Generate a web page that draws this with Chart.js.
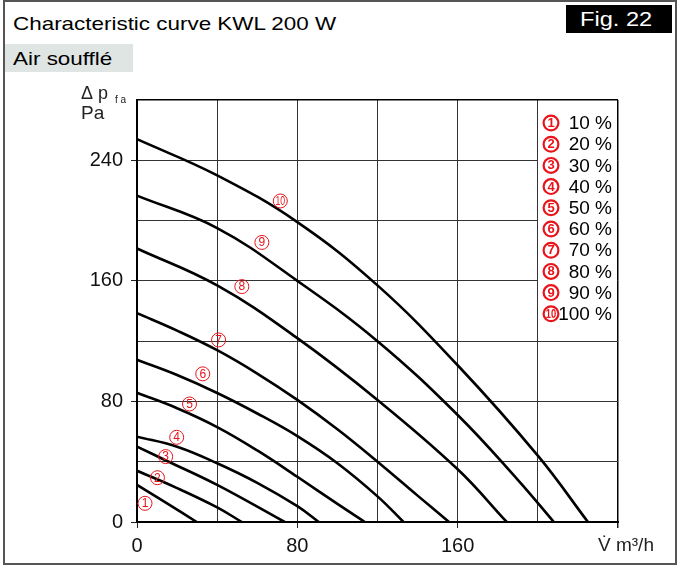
<!DOCTYPE html>
<html>
<head>
<meta charset="utf-8">
<script src="https://cdn.jsdelivr.net/npm/chart.js@4.4.1/dist/chart.umd.min.js"></script>
<style>
html, body { margin: 0; padding: 0; background: #fff; }
body { width: 679px; height: 567px; position: relative; overflow: hidden; font-family: "Liberation Sans", Arial, sans-serif; color: #111; }
#chart { position: absolute; left: 0; top: 0; }
#frame { position: absolute; left: 3px; top: 0; width: 674px; height: 565px; border: 2px solid #555; box-sizing: border-box; }
.stretch { position: absolute; white-space: nowrap; transform: scaleX(1.18); transform-origin: left center; }
#title { left: 13px; top: 13px; font-size: 19px; color: #000; }
#fig { position: absolute; left: 566px; top: 5px; width: 106px; height: 28px; background: #000; }
#fig span { left: 14px; top: 3px; font-size: 20px; color: #fff; }
#sub { position: absolute; left: 5px; top: 44px; width: 128px; height: 28px; background: #dfe5e3; }
#sub span { left: 8px; top: 4px; font-size: 19px; color: #000; }
</style>
</head>
<body>
<div id="frame"></div>
<div id="title" class="stretch">Characteristic curve KWL 200 W</div>
<div id="fig"><span class="stretch">Fig. 22</span></div>
<div id="sub"><span class="stretch">Air soufflé</span></div>
<canvas id="chart" width="679" height="567"></canvas>
<script>
// tick labels shown on the axes
const flowTicks = [0, 80, 160];
const pressureTicks = [0, 80, 160, 240];

// fan speed steps
const speedLabels = ['10 %', '20 %', '30 %', '40 %', '50 %', '60 %', '70 %', '80 %', '90 %', '100 %'];

// curves: [flow m3/h, pressure Pa]
const curve1 = [[0, 24.6], [15, 12.4], [29.8, 0]];
const curve2 = [[0, 34], [20, 22.5], [40, 9.7], [52.3, 0]];
const curve3 = [[0, 50], [15, 40.5], [40, 24.6], [73.7, 0]];
const curve4 = [[0, 56.6], [20, 50], [40, 39], [60, 26], [80, 10.5], [90.7, 0]];
const curve5 = [[0, 85.7], [20, 75.5], [40, 63], [60, 47.5], [80, 30], [100, 12], [113.7, 0]];
const curve6 = [[0, 107.6], [20, 97.5], [40, 85.6], [60, 72], [80, 57], [100, 39], [120, 17], [133, 0]];
const curve7 = [[0, 138.6], [20, 127], [40, 114], [60, 98.5], [80, 81], [100, 61.5], [120, 40], [140, 17.5], [155.7, 0]];
const curve8 = [[0, 181.5], [40, 157], [80, 122], [120, 81], [160, 35], [184.5, 0]];
const curve9 = [[0, 216.5], [40, 195], [80, 160], [120, 120], [160, 71], [190, 28], [208, 0]];
const curve10 = [[0, 254], [40, 230], [80, 199], [120, 157], [160, 104], [200, 44], [225, 0]];

// where the circled numbers sit next to each curve (data units)
const markerPos = [[4, 12.4], [10.2, 29.4], [14.3, 43.4], [19.8, 56.2], [26.2, 78.3],
                   [32.8, 98.3], [40.7, 120.8], [52.3, 156.2], [62.3, 185.5], [71.5, 213]];

const curves = [curve1, curve2, curve3, curve4, curve5, curve6, curve7, curve8, curve9, curve10];
const red = '#e8141a';
const fontFamily = '"Liberation Sans", Arial, sans-serif';

function circled(ctx, cx, cy, n, r, lw, bold) {
    ctx.save();
    ctx.strokeStyle = red;
    ctx.fillStyle = red;
    ctx.lineWidth = lw;
    ctx.beginPath();
    ctx.arc(cx, cy, r, 0, Math.PI * 2);
    ctx.stroke();
    ctx.translate(cx, cy + 0.5);
    if (n >= 10) ctx.scale(0.72, 1);
    ctx.font = (bold ? 'bold 13px ' : '12px ') + fontFamily;
    ctx.textAlign = 'center';
    ctx.textBaseline = 'middle';
    ctx.fillText(String(n), 0, 0);
    ctx.restore();
}

const overlay = {
    id: 'overlay',
    beforeDatasetsDraw(chart) {
        // white box behind the legend hides the grid there
        const { ctx, chartArea: a } = chart;
        ctx.save();
        ctx.fillStyle = '#fff';
        ctx.fillRect(a.right - 80, a.top + 1.5, 79, 229);
        ctx.restore();
    },
    afterDatasetsDraw(chart) {
        const { ctx, chartArea: a, scales: { x, y } } = chart;

        // circled numbers on the curves
        markerPos.forEach((p, i) => {
            circled(ctx, x.getPixelForValue(p[0]), y.getPixelForValue(p[1]), i + 1, 7, 1, false);
        });

        // legend
        ctx.save();
        speedLabels.forEach((lab, i) => {
            const cy = a.top + 23 + i * 21.2;
            circled(ctx, a.right - 67, cy, i + 1, 7.4, 2.2, true);
            ctx.fillStyle = '#000';
            ctx.font = '19px ' + fontFamily;
            ctx.textAlign = 'right';
            ctx.textBaseline = 'middle';
            ctx.fillText(lab, a.right - 6, cy + 1);
        });

        // axis titles
        ctx.fillStyle = '#222';
        ctx.textAlign = 'left';
        ctx.textBaseline = 'alphabetic';
        ctx.font = '18px ' + fontFamily;
        ctx.fillText('\u0394 p', a.left - 56, a.top - 1);
        ctx.font = '10px ' + fontFamily;
        ctx.fillText('f a', a.left - 22, a.top + 3);
        ctx.font = '19px ' + fontFamily;
        ctx.fillText('Pa', a.left - 56, a.top + 19);
        ctx.fillText('V\u0307 m\u00b3/h', x.getPixelForValue(240) - 20, a.bottom + 29);
        ctx.restore();
    }
};

new Chart(document.getElementById('chart'), {
    type: 'scatter',
    data: {
        datasets: curves.map(c => ({
            data: c.map(p => ({ x: p[0], y: p[1] })),
            showLine: true,
            borderColor: '#000',
            borderWidth: 2.6,
            pointRadius: 0,
            tension: 0.4
        }))
    },
    options: {
        responsive: false,
        animation: false,
        devicePixelRatio: 1,
        layout: { padding: { left: 0, right: 61, top: 100, bottom: 0 } },
        plugins: { legend: { display: false }, tooltip: { enabled: false } },
        scales: {
            x: {
                type: 'linear',
                min: 0,
                max: 240,
                afterFit: s => { s.height = 45; },
                ticks: {
                    stepSize: 40,
                    autoSkip: false,
                    maxRotation: 0,
                    padding: 6,
                    color: '#111',
                    font: { size: 20, family: fontFamily },
                    callback: v => flowTicks.includes(v) ? String(v) : ''
                },
                grid: {
                    color: c => c.tick && c.tick.value === 240 ? '#000' : '#333',
                    lineWidth: c => c.tick && c.tick.value === 240 ? 1.5 : 1,
                    tickLength: 6,
                    tickColor: c => c.tick && c.tick.value % 80 === 0 ? '#222' : 'rgba(0,0,0,0)'
                },
                border: { color: '#000', width: 2 }
            },
            y: {
                type: 'linear',
                min: 0,
                max: 280,
                afterFit: s => { s.width = 137; },
                ticks: {
                    stepSize: 40,
                    autoSkip: false,
                    padding: 8,
                    color: '#111',
                    font: { size: 20, family: fontFamily },
                    callback: v => pressureTicks.includes(v) ? String(v) : ''
                },
                grid: {
                    color: c => c.tick && c.tick.value === 280 ? '#000' : '#333',
                    lineWidth: c => c.tick && c.tick.value === 280 ? 1.5 : 1,
                    tickLength: 6,
                    tickColor: c => c.tick && pressureTicks.includes(c.tick.value) ? '#222' : 'rgba(0,0,0,0)'
                },
                border: { color: '#000', width: 2 }
            }
        }
    },
    plugins: [overlay]
});
</script>
</body>
</html>
